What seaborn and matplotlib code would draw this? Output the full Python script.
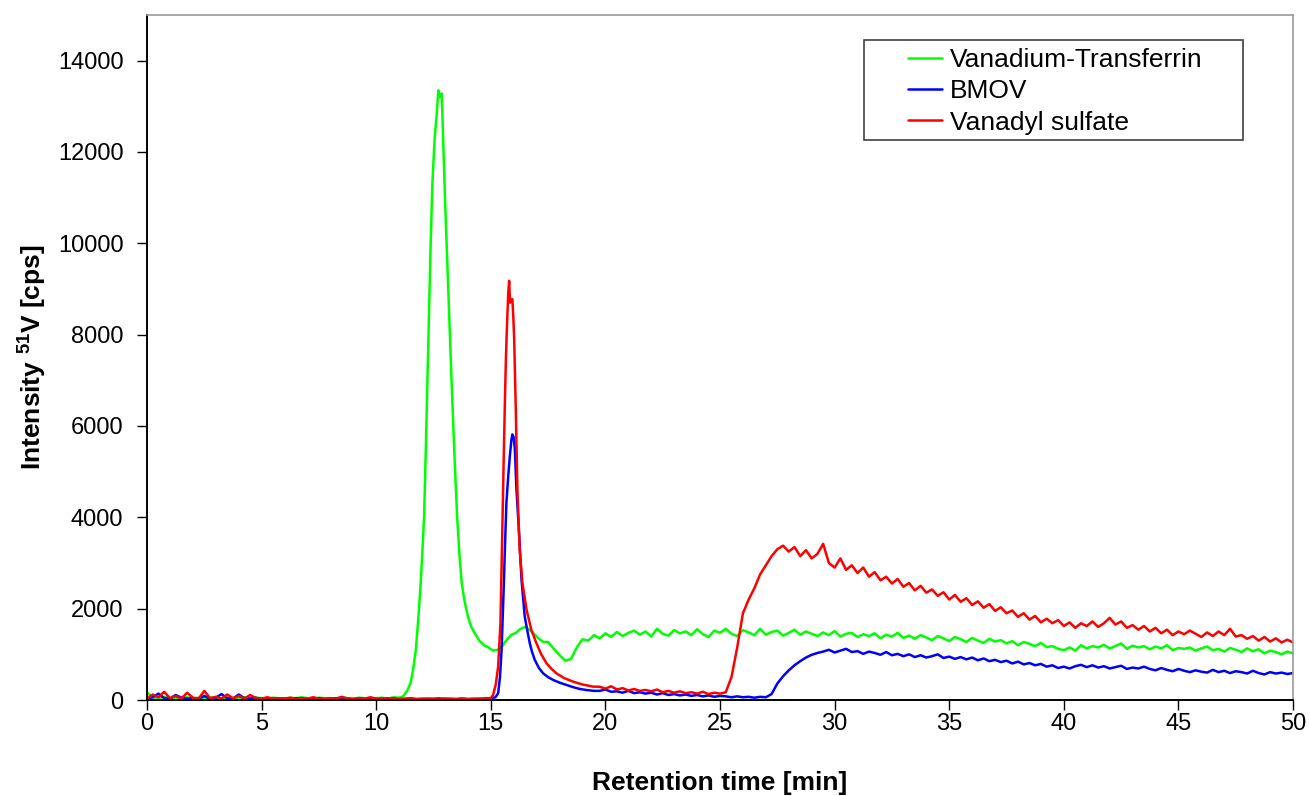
import numpy as np
import pandas as pd
import matplotlib
matplotlib.use('Agg')
import matplotlib.pyplot as plt
from matplotlib.patches import Rectangle
from matplotlib.lines import Line2D
import seaborn as sns

# series names / colours
names = ['Vanadium-Transferrin', 'BMOV', 'Vanadyl sulfate']
colors = ['#00ff00', '#0000ff', '#ff0000']

# ---- Vanadium-Transferrin (green) ----
green_base = [160, 60, 40, 70, 30, 50, 40, 60,
              30, 50, 40, 60, 30, 40, 50, 30,
              40, 60, 30, 50, 40, 30, 50, 40,
              30, 50, 40, 60, 40, 30, 50, 40,
              40, 30, 60, 40, 30, 50, 40, 30,
              40, 50, 30, 60]
green_peak_t = [11.0, 11.17, 11.35, 11.5, 11.62, 11.73, 11.84, 11.94, 12.02, 12.09,
                12.16, 12.23, 12.3, 12.37, 12.45, 12.55, 12.64, 12.71, 12.78, 12.86,
                12.93, 13.0, 13.08, 13.18, 13.29, 13.41, 13.53, 13.63, 13.73, 13.86,
                14.0, 14.15, 14.3, 14.5, 14.7, 14.9, 15.1, 15.3, 15.5, 15.7,
                15.9, 16.1, 16.3, 16.5, 16.7, 16.9, 17.1, 17.3]
green_peak = [50, 80, 200, 370, 700, 1100, 1800, 2560, 3300, 4020,
              5400, 6950, 8400, 9870, 11300, 12300, 12830, 13350, 13200, 13280,
              12170, 11000, 9870, 8400, 6950, 5400, 4020, 3200, 2560, 2150,
              1830, 1600, 1460, 1300, 1200, 1150, 1080, 1100, 1180, 1320,
              1430, 1470, 1560, 1600, 1530, 1440, 1340, 1270]
green_tail = [1270, 1120, 980, 860, 900, 1150, 1330, 1300,
              1420, 1350, 1460, 1380, 1490, 1400, 1470, 1520,
              1430, 1500, 1390, 1560, 1450, 1410, 1530, 1460,
              1500, 1420, 1550, 1440, 1380, 1520, 1470, 1560,
              1450, 1400, 1530, 1480, 1420, 1560, 1430, 1490,
              1520, 1410, 1470, 1540, 1430, 1500, 1450, 1400,
              1480, 1420, 1510, 1390, 1450, 1470, 1380, 1440,
              1400, 1460, 1350, 1430, 1390, 1470, 1360, 1410,
              1340, 1420, 1370, 1310, 1400, 1350, 1290, 1380,
              1330, 1270, 1360, 1300, 1250, 1340, 1280, 1310,
              1240, 1290, 1200, 1270, 1230, 1180, 1250, 1160,
              1180, 1120, 1090, 1150, 1080, 1200, 1130, 1180,
              1150, 1210, 1130, 1180, 1240, 1120, 1190, 1150,
              1180, 1110, 1170, 1130, 1200, 1090, 1140, 1120,
              1150, 1080, 1130, 1170, 1090, 1120, 1060, 1140,
              1100, 1050, 1130, 1070, 1110, 1020, 1080, 1050,
              1000, 1060, 1020]

# ---- BMOV (blue) ----
blue_base = [20, 60, 140, 40, 30, 110, 50, 30,
             40, 30, 90, 30, 50, 130, 40, 30,
             120, 40, 30, 50, 20, 40, 30, 20,
             30, 20, 40, 30, 20, 30, 40, 20,
             30, 40, 20, 30, 20, 30, 20, 30,
             20, 30, 20, 30, 20, 20, 30, 20,
             20, 30, 20, 20, 30, 20, 20, 30,
             20, 20, 30, 20]
blue_peak_t = [15.0, 15.2, 15.32, 15.4, 15.47, 15.52, 15.57, 15.62, 15.68, 15.76,
               15.83, 15.9, 15.94, 16.0, 16.05, 16.12, 16.18, 16.24, 16.34, 16.48,
               16.6, 16.7, 16.8, 16.92, 17.1, 17.28, 17.5, 17.72, 18.0, 18.3,
               18.6, 18.9, 19.17, 19.5]
blue_peak = [30, 60, 146, 500, 1097, 1800, 2560, 3400, 4316, 4900,
             5340, 5700, 5815, 5750, 5486, 4608, 4100, 3584, 2633, 1829,
             1500, 1244, 1050, 878, 700, 585, 500, 439, 380, 329,
             280, 240, 219, 200]
blue_tail = [200, 230, 180, 190, 160, 200, 150, 170,
             140, 160, 120, 150, 110, 130, 100, 120,
             90, 110, 80, 100, 70, 90, 80, 60,
             80, 60, 70, 50, 70, 60, 130, 360,
             520, 650, 760, 850, 930, 990, 1030, 1060,
             1100, 1040, 1080, 1120, 1050, 1070, 1010, 1060,
             1030, 990, 1050, 980, 1010, 960, 1000, 940,
             980, 930, 960, 1000, 920, 950, 900, 940,
             890, 930, 870, 910, 850, 880, 830, 860,
             800, 840, 780, 810, 760, 790, 730, 760,
             700, 730, 690, 740, 770, 720, 760, 710,
             740, 690, 720, 750, 680, 710, 690, 730,
             680, 650, 700, 660, 630, 680, 640, 610,
             650, 620, 600, 660, 610, 640, 590, 630,
             610, 580, 640, 590, 560, 610, 580, 600,
             570, 590]

# ---- Vanadyl sulfate (red) ----
red_base = [30, 120, 60, 180, 40, 90, 30, 160,
            50, 30, 200, 40, 70, 30, 120, 40,
            90, 30, 110, 40, 30, 60, 30, 40,
            30, 50, 20, 40, 30, 60, 30, 20,
            40, 30, 70, 30, 20, 40, 30, 60,
            30, 20, 40, 30, 20, 30, 40, 20,
            30, 20, 30, 40, 20, 30, 20, 30,
            20, 30, 20, 40]
red_peak_t = [15.0, 15.1, 15.22, 15.32, 15.42, 15.51, 15.56, 15.61, 15.66, 15.71,
              15.76, 15.8, 15.84, 15.87, 15.94, 15.98, 16.02, 16.09, 16.16, 16.26,
              16.38, 16.56, 16.77, 16.99, 17.2, 17.43, 17.65, 17.86, 18.2, 18.59,
              19.0, 19.46]
red_peak = [40, 110, 350, 731, 1682, 3877, 5200, 6437, 7500, 8266,
            8900, 9180, 8700, 8778, 8778, 8400, 7900, 6364, 4608, 3292,
            2560, 1975, 1536, 1244, 1000, 805, 680, 585, 480, 402,
            340, 293]
red_tail = [290, 250, 300, 230, 260, 210, 240, 200,
            220, 190, 230, 170, 200, 160, 190, 150,
            170, 140, 180, 130, 160, 140, 170, 500,
            1150, 1900, 2200, 2450, 2750, 2950, 3150, 3300,
            3380, 3250, 3350, 3150, 3280, 3100, 3200, 3420,
            3000, 2900, 3100, 2850, 2950, 2780, 2900, 2700,
            2800, 2620, 2700, 2550, 2650, 2480, 2560, 2400,
            2500, 2350, 2420, 2280, 2360, 2200, 2300, 2150,
            2230, 2080, 2160, 2020, 2100, 1950, 2030, 1900,
            1960, 1820, 1900, 1760, 1840, 1700, 1780, 1680,
            1750, 1620, 1700, 1580, 1680, 1620, 1720, 1600,
            1680, 1800, 1650, 1720, 1580, 1640, 1540, 1620,
            1500, 1580, 1460, 1540, 1420, 1500, 1440, 1520,
            1450, 1380, 1480, 1400, 1500, 1420, 1560, 1390,
            1420, 1340, 1400, 1300, 1380, 1280, 1350, 1260,
            1320, 1260]

x_ticks = list(range(0, 51, 5))
y_ticks = list(range(0, 14001, 2000))


def build(name, parts):
    frames = [pd.DataFrame({'time': t, 'intensity': v}) for t, v in parts]
    d = pd.concat(frames, ignore_index=True)
    d['series'] = name
    return d


df = pd.concat([
    build(names[0], [(np.linspace(0, 10.75, len(green_base)), green_base),
                     (green_peak_t, green_peak),
                     (np.linspace(17.5, 50, len(green_tail)), green_tail)]),
    build(names[1], [(np.linspace(0, 14.75, len(blue_base)), blue_base),
                     (blue_peak_t, blue_peak),
                     (np.linspace(19.75, 50, len(blue_tail)), blue_tail)]),
    build(names[2], [(np.linspace(0, 14.75, len(red_base)), red_base),
                     (red_peak_t, red_peak),
                     (np.linspace(19.75, 50, len(red_tail)), red_tail)]),
], ignore_index=True)

sns.set_style('ticks')
plt.rcParams['font.family'] = ['Liberation Sans', 'DejaVu Sans']
plt.rcParams['mathtext.fontset'] = 'custom'
plt.rcParams['mathtext.rm'] = 'Liberation Sans'
plt.rcParams['mathtext.bf'] = 'Liberation Sans:bold'
for k in ['text.color', 'axes.labelcolor', 'xtick.color', 'ytick.color']:
    plt.rcParams[k] = 'black'

fig = plt.figure(figsize=(13.09, 7.96), dpi=100)
ax = fig.add_axes([0.1123, 0.1206, 0.8755, 0.8606])

sns.lineplot(data=df, x='time', y='intensity', hue='series', hue_order=names,
             palette=dict(zip(names, colors)), estimator=None, sort=False,
             linewidth=1.8, legend=False, ax=ax)

ax.set_xlim(0, 50)
ax.set_ylim(0, 15000)
ax.set_xticks(x_ticks)
ax.set_yticks(y_ticks)
ax.tick_params(axis='both', direction='out', length=7, width=1, labelsize=17, color='black')
ax.tick_params(axis='x', pad=2)
ax.tick_params(axis='y', pad=10)

for s in ['left', 'bottom']:
    ax.spines[s].set_color('black')
    ax.spines[s].set_linewidth(1.4)
for s in ['top', 'right']:
    ax.spines[s].set_visible(True)
    ax.spines[s].set_color('#999999')
    ax.spines[s].set_linewidth(1.2)

ax.set_xlabel('Retention time [min]', fontsize=19, fontweight='bold', labelpad=26)
ax.set_ylabel(r'Intensity $\mathbf{^{51}}$V [cps]', fontsize=19, fontweight='bold', labelpad=6)

# legend box
ax.add_patch(Rectangle((0.6257, 0.8175), 0.3307, 0.146, transform=ax.transAxes,
                       fill=False, edgecolor='#404040', linewidth=1.2, zorder=5))
handles = [Line2D([], [], color=c, lw=1.8) for c in colors]
ax.legend(handles, names, loc='upper left', bbox_to_anchor=(0.664, 0.952),
          frameon=False, fontsize=19, handlelength=1.3, handletextpad=0.3,
          labelspacing=0.28, borderpad=0, borderaxespad=0)

fig.savefig('out.png', dpi=100)
